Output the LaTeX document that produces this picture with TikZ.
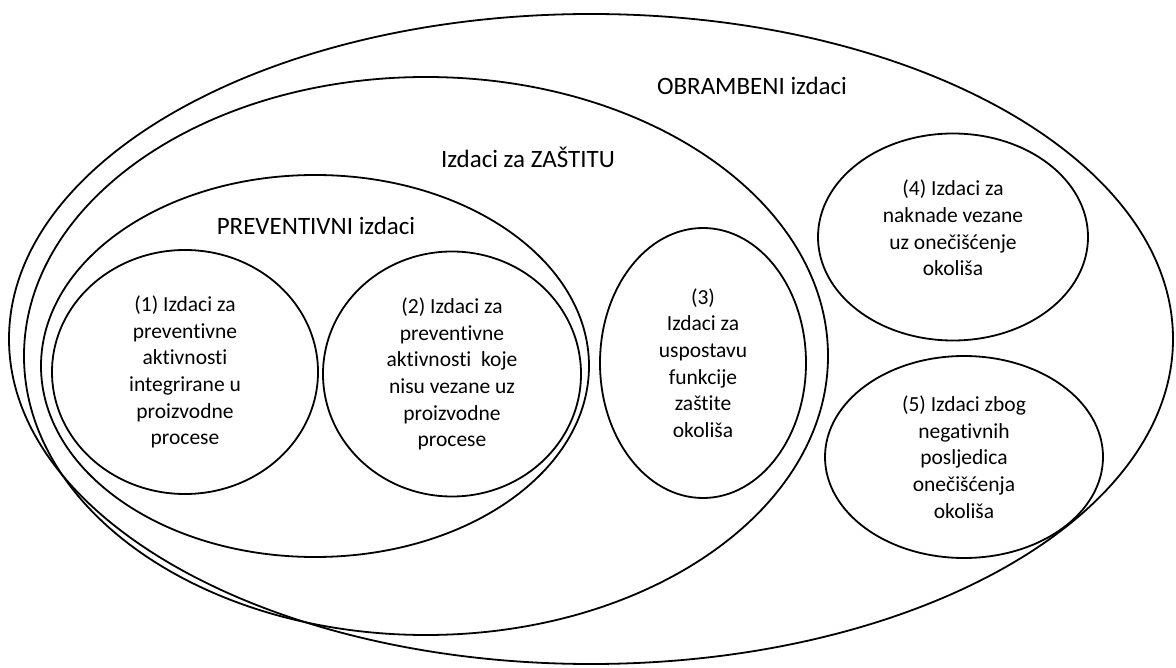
\documentclass[tikz,border=0pt]{standalone}
\usepackage{fontspec}
\setmainfont{Carlito}[Ligatures=NoCommon]
\usetikzlibrary{shapes.geometric, positioning}
\tikzstyle{setbox} = [ellipse, draw, line width=1.8pt, inner sep=0pt, outer sep=0pt]
\tikzstyle{itemtext} = [align=center, text centered, font=\fontsize{21.5}{26.7}\selectfont]
\tikzstyle{itembox} = [setbox, itemtext]
\tikzstyle{setlabel} = [font=\fontsize{25}{30}\selectfont]

\begin{document}
\begin{tikzpicture}[x=1pt, y=-1pt]
  \useasboundingbox (0,0) rectangle (1176,668);
  % nested groups
  \node (obr) [setbox, minimum width=1164pt, minimum height=650pt] at (591,339) {};
  \node (zas) [setbox, minimum width=804pt, minimum height=558pt] at (426,356) {};
  \node (prev) [setbox, minimum width=548pt, minimum height=382pt] at (315,366) {};
  \node (obrlbl) [setlabel] at (752,86) {OBRAMBENI izdaci};
  \node (zaslbl) [setlabel] at (528,157) {Izdaci za ZAŠTITU};
  \node (prevlbl) [setlabel] at (316,226) {PREVENTIVNI izdaci};
  % single items
  \node (i1) [itembox, minimum width=266pt, minimum height=244pt] at (185,372) {(1) Izdaci za\\preventivne\\aktivnosti\\integrirane u\\proizvodne\\procese};
  \node (i2) [itembox, minimum width=258pt, minimum height=245pt] at (452,374) {(2) Izdaci za\\preventivne\\aktivnosti~ koje\\nisu vezane uz\\proizvodne\\procese};
  \node (i3) [itembox, minimum width=206pt, minimum height=270pt] at (703,363) {(3)\\Izdaci za\\uspostavu\\funkcije\\zaštite\\okoliša};
  \node (i4) [setbox, minimum width=270pt, minimum height=207pt,
    label={[itemtext, yshift=9pt]center:(4) Izdaci za\\naknade vezane\\uz onečišćenje\\okoliša}] at (953,237) {};
  \node (i5) [itembox, minimum width=278pt, minimum height=202pt] at (964,457) {(5) Izdaci zbog\\negativnih\\posljedica\\onečišćenja\\okoliša};
\end{tikzpicture}
\end{document}
